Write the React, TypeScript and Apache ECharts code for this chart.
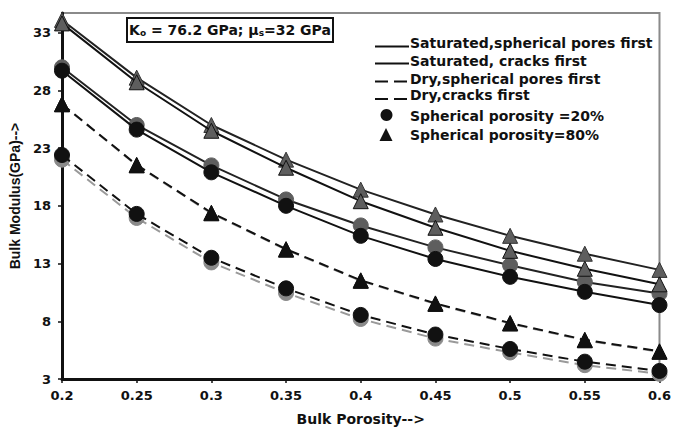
import React, { useEffect, useRef } from "react";
import * as echarts from "echarts";

const porosity = [0.2, 0.25, 0.3, 0.35, 0.4, 0.45, 0.5, 0.55, 0.6];
const yTicks = [3, 8, 13, 18, 23, 28, 33];

const satSpherical20 = [30.0, 25.0, 21.5, 18.55, 16.3, 14.4, 12.85, 11.4, 10.4];
const satCracks20 = [29.7, 24.6, 20.9, 18.0, 15.4, 13.4, 11.85, 10.55, 9.4];
const satSpherical80 = [34.1, 29.1, 25.0, 22.0, 19.4, 17.25, 15.4, 13.85, 12.45];
const satCracks80 = [33.8, 28.7, 24.5, 21.3, 18.4, 16.1, 14.1, 12.55, 11.2];
const drySpherical80 = [26.8, 21.55, 17.4, 14.25, 11.55, 9.55, 7.85, 6.4, 5.4];
const dryCracks80 = [26.8, 21.5, 17.35, 14.2, 11.5, 9.5, 7.8, 6.35, 5.35];
const drySpherical20 = [22.4, 17.3, 13.5, 10.85, 8.55, 6.85, 5.6, 4.5, 3.7];
const dryCracks20 = [22.0, 16.95, 13.1, 10.45, 8.2, 6.5, 5.3, 4.2, 3.45];

const legendLabels = [
  "Saturated,spherical pores first",
  "Saturated, cracks first",
  "Dry,spherical pores first",
  "Dry,cracks first",
  "Spherical porosity =20%",
  "Spherical porosity=80%",
];

const WIDE = "'DejaVu Sans', Arial, sans-serif";
const NARROW = "'Liberation Sans', Arial, sans-serif";

function pairs(vals: number[]) {
  return vals.map((v, i) => [porosity[i], v]);
}

export default function App() {
  const ref = useRef<HTMLDivElement>(null);
  useEffect(() => {
    if (!ref.current) return;
    const chart = echarts.init(ref.current, null, { renderer: "svg" });

    const mk = (
      name: string,
      vals: number[],
      lineColor: string,
      dashed: boolean,
      symbol: string,
      fill: string,
      border: string,
      z: number
    ) => ({
      name,
      type: "line",
      data: pairs(vals),
      symbol,
      symbolSize: 15,
      z,
      lineStyle: {
        color: lineColor,
        width: 2,
        type: dashed ? [10, 6] : "solid",
      },
      itemStyle: { color: fill, borderColor: border, borderWidth: 1, opacity: 1 },
      emphasis: { disabled: true },
    });

    const legendX1 = 375;
    const legendX2 = 409;
    const textX = 410;
    const rows = [43, 61, 79, 95, 116, 135];
    const lineRows = [46.5, 63.5, 81.5, 99];

    const graphics: any[] = [
      {
        type: "rect",
        shape: { x: 127, y: 18, width: 206, height: 24 },
        style: { fill: "#fff", stroke: "#111", lineWidth: 2 },
        z: 10,
      },
      {
        type: "text",
        x: 230,
        y: 30,
        z: 11,
        style: {
          text: "K{sub|o} = 76.2 GPa; μ{sub|s}=32 GPa",
          font: `bold 14px ${WIDE}`,
          fill: "#111",
          align: "center",
          verticalAlign: "middle",
          rich: {
            sub: { fontSize: 9, fontWeight: "bold", fontFamily: WIDE, fill: "#111", verticalAlign: "bottom", padding: [5, 0, 0, 0] },
          },
        },
      },
    ];
    [0, 1, 2, 3].forEach((i) => {
      graphics.push({
        type: "line",
        z: 10,
        shape: { x1: legendX1, y1: lineRows[i], x2: legendX2, y2: lineRows[i] },
        style: {
          stroke: "#111",
          lineWidth: 2,
          lineDash: i >= 2 ? [13, 6] : null,
        },
      });
    });
    graphics.push({
      type: "circle",
      z: 10,
      shape: { cx: 386.5, cy: rows[4] - 1, r: 6 },
      style: { fill: "#111" },
    });
    graphics.push({
      type: "polygon",
      z: 10,
      shape: { points: [[386, rows[5] - 7], [379.5, rows[5] + 6], [392.5, rows[5] + 6]] },
      style: { fill: "#111" },
    });
    legendLabels.forEach((t, i) => {
      graphics.push({
        type: "text",
        z: 10,
        x: textX,
        y: rows[i],
        style: {
          text: t,
          font: `bold 14px ${WIDE}`,
          fill: "#111",
          align: "left",
          verticalAlign: "middle",
        },
      });
    });

    chart.setOption({
      animation: false,
      backgroundColor: "#fff",
      grid: {
        left: 58,
        right: 11,
        top: 13,
        bottom: 48,
        show: true,
        borderColor: "#8a8a8a",
        borderWidth: 2,
        backgroundColor: "transparent",
      },
      xAxis: {
        type: "value",
        min: 0.2,
        max: 0.6,
        name: "Bulk Porosity-->",
        nameLocation: "middle",
        nameGap: 33,
        nameTextStyle: { fontFamily: WIDE, fontWeight: "bold", fontSize: 14, color: "#111" },
        axisLine: { show: true, lineStyle: { color: "#111", width: 3 } },
        axisTick: { show: true, length: 4, lineStyle: { color: "#111", width: 1.5 }, customValues: porosity },
        axisLabel: {
          customValues: porosity,
          fontFamily: WIDE,
          fontWeight: "bold",
          fontSize: 13,
          color: "#111",
          margin: 10,
          formatter: (v: number) => String(Math.round(v * 100) / 100),
        },
        splitLine: { show: false },
      },
      yAxis: {
        type: "value",
        min: 3,
        max: 34.7,
        name: "Bulk Modulus(GPa)-->",
        nameLocation: "middle",
        nameGap: 33,
        nameTextStyle: { fontFamily: NARROW, fontWeight: "bold", fontSize: 14, color: "#111" },
        axisLine: { show: true, lineStyle: { color: "#111", width: 3 } },
        axisTick: { show: true, length: 4, lineStyle: { color: "#111", width: 1.5 }, customValues: yTicks },
        axisLabel: {
          customValues: yTicks,
          fontFamily: WIDE,
          fontWeight: "bold",
          fontSize: 13,
          color: "#111",
          margin: 11,
        },
        splitLine: { show: false },
      },
      series: [
        mk("dry cracks 20", dryCracks20, "#9a9a9a", true, "circle", "#8a8a8a", "#8a8a8a", 2),
        mk("dry spherical 20", drySpherical20, "#111", true, "circle", "#111", "#111", 3),
        mk("dry cracks 80", dryCracks80, "#a0a0a0", true, "triangle", "#111", "#111", 2),
        mk("dry spherical 80", drySpherical80, "#111", true, "triangle", "#111", "#111", 3),
        mk("sat spherical 20", satSpherical20, "#222", false, "circle", "#5e5e5e", "#5e5e5e", 2),
        mk("sat cracks 20", satCracks20, "#111", false, "circle", "#111", "#111", 3),
        mk("sat spherical 80", satSpherical80, "#222", false, "triangle", "#5e5e5e", "#333", 2),
        mk("sat cracks 80", satCracks80, "#111", false, "triangle", "#5e5e5e", "#111", 3),
      ],
      graphic: graphics,
    });
    return () => chart.dispose();
  }, []);
  return <div ref={ref} style={{ width: 674, height: 431, position: "absolute", left: 0, top: 0 }} />;
}
